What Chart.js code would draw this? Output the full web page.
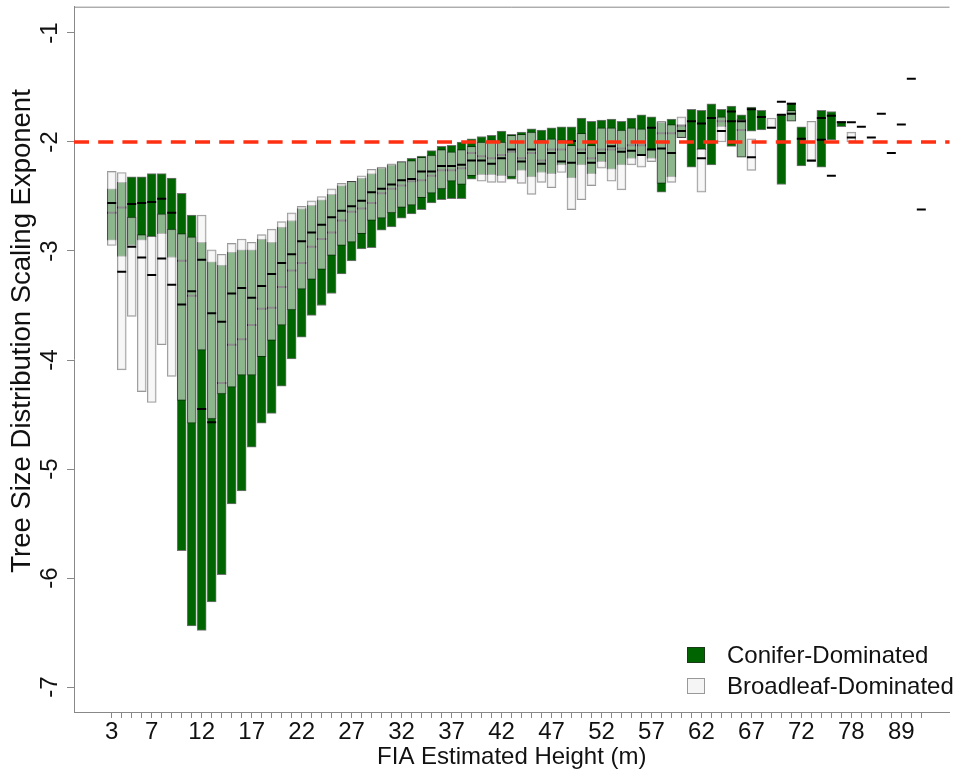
<!DOCTYPE html>
<html>
<head>
<meta charset="utf-8">
<script src="https://cdn.jsdelivr.net/npm/chart.js@4.4.1/dist/chart.umd.min.js"></script>
<style>
  html, body { margin: 0; padding: 0; background: #fff; }
  #wrap { position: relative; width: 956px; height: 776px; }
  #legend { position: absolute; left: 687px; top: 639px; font-family: "Liberation Sans", Arial, sans-serif; font-size: 24px; color: #111; }
  .row { display: flex; align-items: center; height: 31px; }
  .sw { width: 18px; height: 16px; margin-right: 22px; box-sizing: border-box; }
</style>
</head>
<body>
<div id="wrap">
  <canvas id="chart" width="956" height="776"></canvas>
  <div id="legend">
    <div class="row"><span class="sw" style="background:#006400;border:1px solid #1a3a1a"></span>Conifer-Dominated</div>
    <div class="row"><span class="sw" style="background:#f5f5f5;border:1px solid #999"></span>Broadleaf-Dominated</div>
  </div>
</div>
<script>
// height classes (m); only some of them get a label on the axis
const heights = [3, 4, 5, 6, 7, 8, 9, 10, 11, 12, 13, 14, 15, 16, 17, 18, 19, 20, 21, 22,
  23, 24, 25, 26, 27, 28, 29, 30, 31, 32, 33, 34, 35, 36, 37, 38, 39, 40, 41, 42,
  43, 44, 45, 46, 47, 48, 49, 50, 51, 52, 53, 54, 55, 56, 57, 58, 59, 60, 61, 62,
  63, 64, 65, 66, 67, 68, 69, 70, 71, 72, 73, 74, 75, 77, 78, 79, 80, 82, 84, 89, 91, 97];

// conifer-dominated plots: upper quartile, lower quartile, median
const conHigh = [-2.43, -2.37, -2.32, -2.32, -2.29, -2.29, -2.33, -2.47, -2.67, -2.92,
  -3.10, -3.13, -3.01, -2.99, -2.99, -2.89, -2.92, -2.78, -2.72, -2.61,
  -2.58, -2.53, -2.48, -2.40, -2.36, -2.33, -2.29, -2.24, -2.21, -2.18,
  -2.15, -2.13, -2.08, -2.04, -2.03, -2.00, -1.97, -1.95, -1.94, -1.90,
  -1.93, -1.91, -1.88, -1.89, -1.87, -1.86, -1.86, -1.78, -1.81, -1.80,
  -1.79, -1.81, -1.78, -1.75, -1.77, -1.82, -1.79, -1.84, -1.70, -1.71,
  -1.65, -1.70, -1.67, -1.75, -1.68, -1.71, null, -1.75, -1.64, -1.86,
  null, -1.71, -1.72, -1.81, null, null, null, null, null, null, null, null];
const conLow = [-2.90, -3.05, -2.95, -2.90, -2.87, -2.84, -3.06, -5.75, -6.44, -6.48,
  -6.22, -5.97, -5.32, -5.20, -4.80, -4.58, -4.49, -4.24, -3.99, -3.79,
  -3.59, -3.50, -3.39, -3.21, -3.09, -2.98, -2.97, -2.81, -2.78, -2.70,
  -2.66, -2.62, -2.56, -2.53, -2.52, -2.52, -2.34, -2.30, -2.30, -2.31,
  -2.34, -2.26, -2.32, -2.28, -2.29, -2.21, -2.33, -2.21, -2.29, -2.18,
  -2.25, -2.21, -2.15, -2.12, -2.15, -2.46, -2.32, -1.96, -2.23, -2.07,
  -2.21, -1.86, -2.04, -2.14, -1.90, -1.89, null, -2.39, -1.81, -2.22,
  null, -2.23, -1.98, -1.86, null, null, null, null, null, null, null, null];
const conMed = [-2.65, -2.60, -2.57, -2.56, -2.55, -2.52, -2.65, -3.09, -3.41, -4.45,
  -4.57, -4.21, -3.86, -3.81, -3.68, -3.53, -3.52, -3.33, -3.18, -3.11,
  -2.96, -2.89, -2.83, -2.72, -2.64, -2.61, -2.56, -2.47, -2.43, -2.40,
  -2.36, -2.35, -2.31, -2.26, -2.26, -2.24, -2.10, -2.13, -2.15, -2.12,
  -2.09, -2.15, -2.10, -2.17, -2.07, -2.07, -1.99, -2.07, -2.15, -2.07,
  -2.07, -2.06, -2.03, -2.03, -1.87, -1.92, -1.92, -1.85, -1.81, -1.83,
  -1.78, -1.81, -1.81, -1.89, -1.70, -1.77, null, -1.75, -1.65, -1.97,
  null, -1.78, -1.76, -1.82, -1.82, -1.86, -1.96, -1.74, -2.10, -1.84, -1.42, -2.62];

// broadleaf-dominated plots: upper quartile, lower quartile, median
const broHigh = [-2.27, -2.28, -2.69, -2.85, -2.86, -2.66, -2.80, -2.84, -2.87, -2.67,
  -2.99, -3.03, -2.93, -2.89, -2.92, -2.85, -2.80, -2.73, -2.65, -2.59,
  -2.54, -2.50, -2.43, -2.38, -2.36, -2.31, -2.25, -2.23, -2.20, -2.18,
  -2.17, -2.14, -2.12, -2.07, -2.09, -2.07, -2.04, -2.00, -1.98, -2.00,
  -1.94, -1.93, -1.91, -1.98, -1.97, -1.98, -2.03, -1.92, -2.03, -1.87,
  -1.87, -1.89, -1.87, -1.88, -2.06, -1.81, -1.84, -1.77, null, -2.06,
  null, -1.77, null, -1.79, -1.97, null, -1.78, null, -1.71, null,
  -1.81, null, null, null, -1.91, null, null, null, null, null, null, null];
const broLow = [-2.95, -4.09, -3.60, -4.29, -4.39, -3.86, -4.15, -4.37, -4.58, -3.91,
  -4.54, -4.31, -4.25, -4.14, -4.14, -3.97, -3.82, -3.68, -3.54, -3.35,
  -3.26, -3.17, -3.04, -2.95, -2.92, -2.84, -2.72, -2.70, -2.65, -2.60,
  -2.58, -2.51, -2.47, -2.43, -2.36, -2.39, -2.31, -2.36, -2.37, -2.37,
  -2.32, -2.38, -2.48, -2.37, -2.42, -2.28, -2.62, -2.53, -2.40, -2.24,
  -2.36, -2.44, -2.21, -2.23, -2.18, -2.38, -2.37, -1.96, null, -2.46,
  null, -2.00, null, -2.14, -2.26, null, -1.87, null, -1.81, null,
  -2.18, null, null, null, -2.00, null, null, null, null, null, null, null];
const broMed = [-2.56, -3.19, -2.96, -3.06, -3.22, -3.07, -3.31, -3.49, -3.37, -3.08,
  -3.57, -3.65, -3.39, -3.34, -3.43, -3.32, -3.21, -3.11, -3.03, -2.91,
  -2.83, -2.76, -2.69, -2.63, -2.59, -2.54, -2.46, -2.43, -2.39, -2.35,
  -2.34, -2.27, -2.27, -2.22, -2.22, -2.21, -2.17, -2.17, -2.20, -2.15,
  -2.07, -2.18, -2.07, -2.20, -2.10, -2.18, -2.19, -2.10, -2.19, -2.10,
  -2.04, -2.09, -2.08, -2.12, -2.07, -2.06, -2.10, -1.90, null, -2.15,
  null, -1.90, -1.72, -1.81, -2.14, null, -1.87, -1.63, -1.74, null,
  -2.17, -1.98, -2.31, null, -1.96, null, null, null, null, null, null, null];

const yTicks = [-7, -6, -5, -4, -3, -2, -1];
const refLine = -2;
const yTitle = 'Tree Size Distribution Scaling Exponent';

const FONT = '"Liberation Sans", Arial, sans-serif';
Chart.defaults.font.family = FONT;
Chart.defaults.color = '#111';

function boxes(lo, hi) {
  return heights.map((h, i) => ({ x: i, y: lo[i] == null ? null : [lo[i], hi[i]] }));
}
function medians(m) {
  return heights.map((h, i) => ({ x: i, y: m[i] }));
}

const medStyle = {
  type: 'line', showLine: false, pointStyle: 'line',
  pointRadius: 4.5, pointHoverRadius: 4.5, pointBorderWidth: 2,
  pointBorderColor: '#000', borderColor: '#000'
};

// red reference line, rotated y labels + title, top frame
const extras = {
  id: 'extras',
  afterDatasetsDraw(chart) {
    const { ctx, chartArea: a, scales: { y } } = chart;
    const py = y.getPixelForValue(refLine);
    ctx.save();
    ctx.strokeStyle = '#ff2f12';
    ctx.lineWidth = 3.3;
    ctx.setLineDash([15, 9.2]);
    ctx.beginPath();
    ctx.moveTo(a.left, py);
    ctx.lineTo(a.right, py);
    ctx.stroke();
    ctx.restore();
  },
  afterDraw(chart) {
    const { ctx, chartArea: a, scales: { y } } = chart;
    ctx.save();
    ctx.strokeStyle = '#888';
    ctx.lineWidth = 1;
    ctx.beginPath();
    ctx.moveTo(a.left, a.top + 0.5);
    ctx.lineTo(a.right, a.top + 0.5);
    ctx.stroke();
    ctx.fillStyle = '#111';
    ctx.textAlign = 'center';
    ctx.textBaseline = 'alphabetic';
    ctx.font = '24px ' + FONT;
    y.ticks.forEach(t => {
      ctx.save();
      ctx.translate(57, y.getPixelForValue(t.value));
      ctx.rotate(-Math.PI / 2);
      ctx.fillText(String(t.value), 0, 0);
      ctx.restore();
    });
    ctx.font = '27.5px ' + FONT;
    ctx.translate(30, 331);
    ctx.rotate(-Math.PI / 2);
    ctx.fillText(yTitle, 0, 0);
    ctx.restore();
  }
};

new Chart(document.getElementById('chart'), {
  type: 'bar',
  data: {
    datasets: [
      { label: 'Conifer-Dominated', data: boxes(conLow, conHigh), backgroundColor: '#006400',
        borderColor: 'rgba(0,0,0,0.55)', borderWidth: 1, borderSkipped: false,
        barThickness: 9, grouped: false, order: 4 },
      { ...medStyle, data: medians(conMed), order: 3 },
      { label: 'Broadleaf-Dominated', data: boxes(broLow, broHigh), backgroundColor: 'rgba(242,242,242,0.58)',
        borderColor: 'rgba(0,0,0,0.4)', borderWidth: 1, borderSkipped: false,
        barThickness: 9, grouped: false, order: 2 },
      { ...medStyle, data: medians(broMed), order: 1 }
    ]
  },
  options: {
    responsive: false,
    animation: false,
    layout: { padding: { top: 6.7, right: 0, bottom: 0, left: 0 } },
    plugins: { legend: { display: false }, tooltip: { enabled: false } },
    scales: {
      x: {
        type: 'linear', min: -3.774, max: 83.82, offset: false,
        afterBuildTicks: s => { s.ticks = heights.map((h, i) => ({ value: i })); },
        afterFit: s => { s.height = 64; },
        ticks: {
          autoSkip: false, maxRotation: 0, padding: 0, color: '#111', font: { size: 24 },
          callback: v => (v === 0 || (v + 1) % 5 === 0) ? String(heights[v]) : ''
        },
        grid: { drawOnChartArea: false, drawTicks: true, tickLength: 6, color: '#888', offset: false },
        border: { display: true, color: '#888', width: 1 },
        title: { display: true, text: 'FIA Estimated Height (m)', color: '#111', font: { size: 24 },
          padding: { top: 0, bottom: 4 } }
      },
      y: {
        min: -7.229, max: -0.759,
        afterBuildTicks: s => { s.ticks = yTicks.map(v => ({ value: v })); },
        afterFit: s => { s.width = 74; },
        ticks: { display: false },
        grid: { drawOnChartArea: false, drawTicks: true, tickLength: 7, color: '#888' },
        border: { display: true, color: '#888', width: 1 }
      }
    }
  },
  plugins: [extras]
});
</script>
</body>
</html>
